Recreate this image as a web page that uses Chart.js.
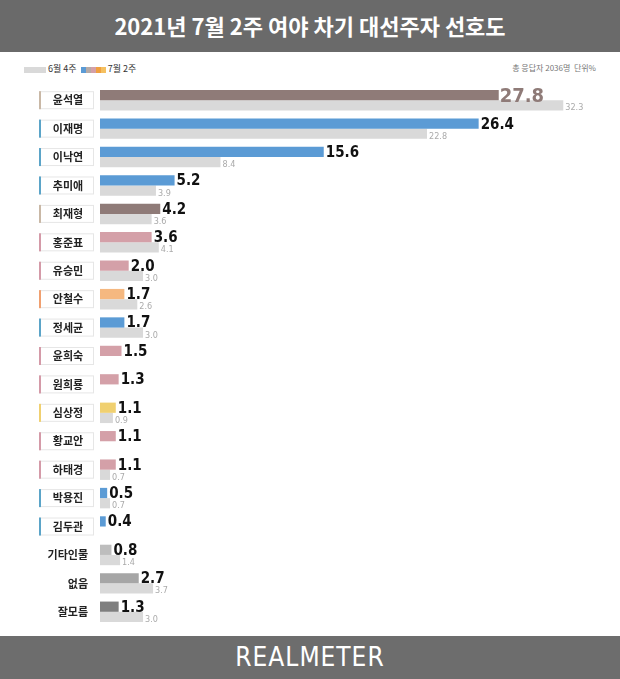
<!DOCTYPE html><html><head><meta charset="utf-8">
<script src="https://cdn.jsdelivr.net/npm/chart.js@4"></script>
<style>
body{margin:0;width:620px;height:679px;position:relative;background:#fff;font-family:"Noto Sans CJK KR",sans-serif;overflow:hidden}
#hd{position:absolute;left:0;top:0;width:620px;height:52px;background:#6a6a6a;color:#fff;font-weight:bold;font-size:22px;text-align:center;line-height:50px}
#ft{position:absolute;left:0;top:636px;width:620px;height:43px;background:#6d6d6d;color:#fff;font-family:"DejaVu Sans Condensed","Liberation Sans Narrow",sans-serif;font-weight:200;font-size:26px;text-align:center;line-height:43px;letter-spacing:1px}
#lg{position:absolute;left:24px;top:62px;font-size:9px;color:#333}
#lg span{display:inline-block;vertical-align:middle}
#unit{position:absolute;right:24px;top:62px;font-size:8px;color:#777}
canvas{position:absolute;left:0;top:0}
</style></head><body>
<div id="hd">2021년 7월 2주 여야 차기 대선주자 선호도</div>
<div id="lg"><span style="width:22px;height:6px;background:#d9d9d9"></span> 6월 4주 &nbsp;<span style="width:5px;height:6px;background:#5b9bd5"></span><span style="width:5px;height:6px;background:#b7aaa5"></span><span style="width:5px;height:6px;background:#d4a0a8"></span><span style="width:5px;height:6px;background:#f0a040"></span><span style="width:5px;height:6px;background:#f5c060"></span> 7월 2주</div>
<div id="unit">총 응답자 2036명 &nbsp;단위%</div>
<div id="ft">REALMETER</div>
<canvas id="c" width="620" height="679"></canvas>
<script>
const categories=["윤석열","이재명","이낙연","추미애","최재형","홍준표","유승민","안철수","정세균","윤희숙","원희룡","심상정","황교안","하태경","박용진","김두관","기타인물","없음","잘모름"];
const julyValues=[27.8,26.4,15.6,5.2,4.2,3.6,2.0,1.7,1.7,1.5,1.3,1.1,1.1,1.1,0.5,0.4,0.8,2.7,1.3];
const juneValues=[32.3,22.8,8.4,3.9,3.6,4.1,3.0,2.6,3.0,null,null,0.9,null,0.7,0.7,null,1.4,3.7,3.0];
const julyColors=["#8f7b78","#5b9bd5","#5b9bd5","#5b9bd5","#8f7b78","#d4a0a8","#d4a0a8","#f5b880","#5b9bd5","#d4a0a8","#d4a0a8","#f0d070","#d4a0a8","#d4a0a8","#5b9bd5","#5b9bd5","#bdbdbd","#a6a6a6","#7f7f7f"];
const boxColors=["#c9b8a6","#5ba4c8","#5ba4c8","#5ba4c8","#c9b8a6","#d49aa8","#d49aa8","#f0a070","#5ba4c8","#d49aa8","#d49aa8","#f0d070","#d49aa8","#d49aa8","#5ba4c8","#5ba4c8",null,null,null];
const labels={id:'lbl',afterDatasetsDraw(ch){const c=ch.ctx,y=ch.scales.y,x=ch.scales.x;
const m0=ch.getDatasetMeta(0),m1=ch.getDatasetMeta(1);
categories.forEach((n,i)=>{const cy=y.getPixelForValue(i);c.save();
if(boxColors[i]){c.fillStyle='#fff';c.strokeStyle='#e6e6e6';c.lineWidth=1;c.fillRect(39,cy-9,54,18);c.strokeRect(39.5,cy-8.5,54,17);c.fillStyle=boxColors[i];c.fillRect(39,cy-9,2,18);c.fillStyle='#222';c.font='bold 11px "Noto Sans CJK KR"';c.textAlign='center';c.textBaseline='middle';c.fillText(n,68,cy);}
else{c.fillStyle='#222';c.font='bold 11px "Noto Sans CJK KR"';c.textAlign='right';c.textBaseline='middle';c.fillText(n,88,cy);}
const b=m0.data[i];c.textAlign='left';c.textBaseline='alphabetic';
if(i===0){c.fillStyle='#8f7b78';c.font='bold 20px "DejaVu Sans Condensed"';c.fillText(julyValues[i].toFixed(1),b.x+1,b.y+7);}
else{c.fillStyle='#111';c.font='bold 15px "DejaVu Sans Condensed"';c.fillText(julyValues[i].toFixed(1),b.x+2,b.y+5);}
if(juneValues[i]!=null){const p=m1.data[i];c.fillStyle='#aaa';c.font='9px "DejaVu Sans Condensed"';c.fillText(juneValues[i].toFixed(1),p.x+2,p.y+5);}
c.restore();});}};
new Chart(document.getElementById('c'),{type:'bar',data:{labels:categories,datasets:[
{data:julyValues,backgroundColor:julyColors,categoryPercentage:0.72,barPercentage:1},
{data:juneValues,backgroundColor:'#d9d9d9',categoryPercentage:0.72,barPercentage:1}]},
options:{indexAxis:'y',responsive:false,animation:false,layout:{padding:{left:100,right:18,top:86,bottom:53}},
plugins:{legend:{display:false},tooltip:{enabled:false}},
scales:{x:{display:false,min:0,max:35},y:{display:false}}},plugins:[labels]});
</script></body></html>
